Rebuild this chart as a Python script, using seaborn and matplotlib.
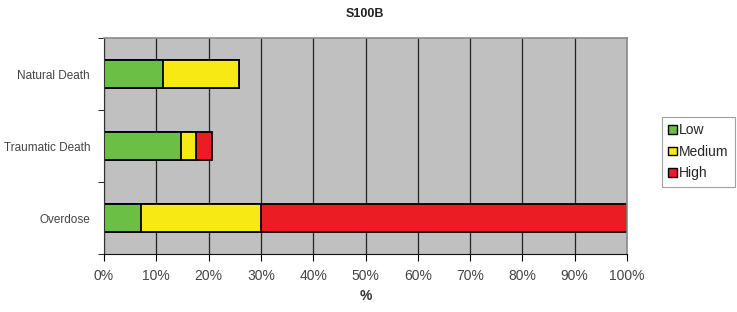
import matplotlib
matplotlib.use("Agg")
import matplotlib.pyplot as plt
import seaborn as sns
import pandas as pd
import numpy as np
from matplotlib.patches import Patch

# values (percent of each group)
categories = ["Natural Death", "Traumatic Death", "Overdose"]
low = [11.2, 14.8, 7.1]
medium = [14.7, 2.8, 22.9]
high = [0.0, 3.0, 70.0]

colors = {"Low": "#6cbf45", "Medium": "#f7ea14", "High": "#ec1c24"}

df = pd.DataFrame({"cat": categories, "Low": low, "Medium": medium, "High": high})
df["c_low"] = df["Low"]
df["c_med"] = df["Low"] + df["Medium"]
df["c_high"] = df["Low"] + df["Medium"] + df["High"]

sns.set_style("white")
plt.rcParams["font.family"] = ["Liberation Sans", "DejaVu Sans"]

fig = plt.figure(figsize=(7.37, 3.12), dpi=100)
ax = fig.add_axes([104 / 737, 58 / 312, 523 / 737, 216 / 312])
ax.set_facecolor("#c0c0c0")

# stacked bars: draw cumulative totals from the back
for col, name in [("c_high", "High"), ("c_med", "Medium"), ("c_low", "Low")]:
    sns.barplot(data=df, x=col, y="cat", order=categories, color=colors[name],
                edgecolor="black", linewidth=1.3, width=0.39, saturation=1,
                orient="h", ax=ax)

ax.set_xlim(0, 100)
ax.set_ylim(2.5, -0.5)
ax.set_xticks(np.arange(0, 101, 10))
ax.set_xticklabels([f"{v}%" for v in range(0, 101, 10)], fontsize=10, color="#444444")
ax.xaxis.grid(True, color="#222222", linewidth=0.9)
ax.set_axisbelow(True)

ax.set_yticks([0, 1, 2])
ax.set_yticklabels(categories, fontsize=8.5, color="#444444")
ax.tick_params(axis="y", which="major", length=0, pad=10)
ax.set_yticks([-0.5, 0.5, 1.5, 2.5], minor=True)
ax.tick_params(axis="y", which="minor", length=4, color="black", direction="out", left=True)
ax.tick_params(axis="x", length=5, color="black", direction="out", bottom=True, pad=6)

for s in ["top", "right"]:
    ax.spines[s].set_color("#8a8a8a")
    ax.spines[s].set_linewidth(1.2)
ax.spines["left"].set_color("#333333")
ax.spines["bottom"].set_color("#111111")

ax.set_xlabel("%", fontsize=10, fontweight="bold", color="#333333", labelpad=4)
ax.set_ylabel("")
fig.suptitle("S100B", fontsize=9, fontweight="bold", x=365 / 737, y=0.975, color="#222222")

handles = [Patch(facecolor=colors[n], edgecolor="black", label=n) for n in ["Low", "Medium", "High"]]
leg = fig.legend(handles=handles, loc="upper right", bbox_to_anchor=(742 / 737, 1 - 110 / 312),
                 frameon=True, fancybox=False, fontsize=10, handlelength=0.6, handleheight=0.6,
                 handletextpad=0.2, labelspacing=0.55, borderpad=0.45)
leg.get_frame().set_edgecolor("#888888")
leg.get_frame().set_linewidth(0.8)

fig.savefig("out.png", dpi=100)
